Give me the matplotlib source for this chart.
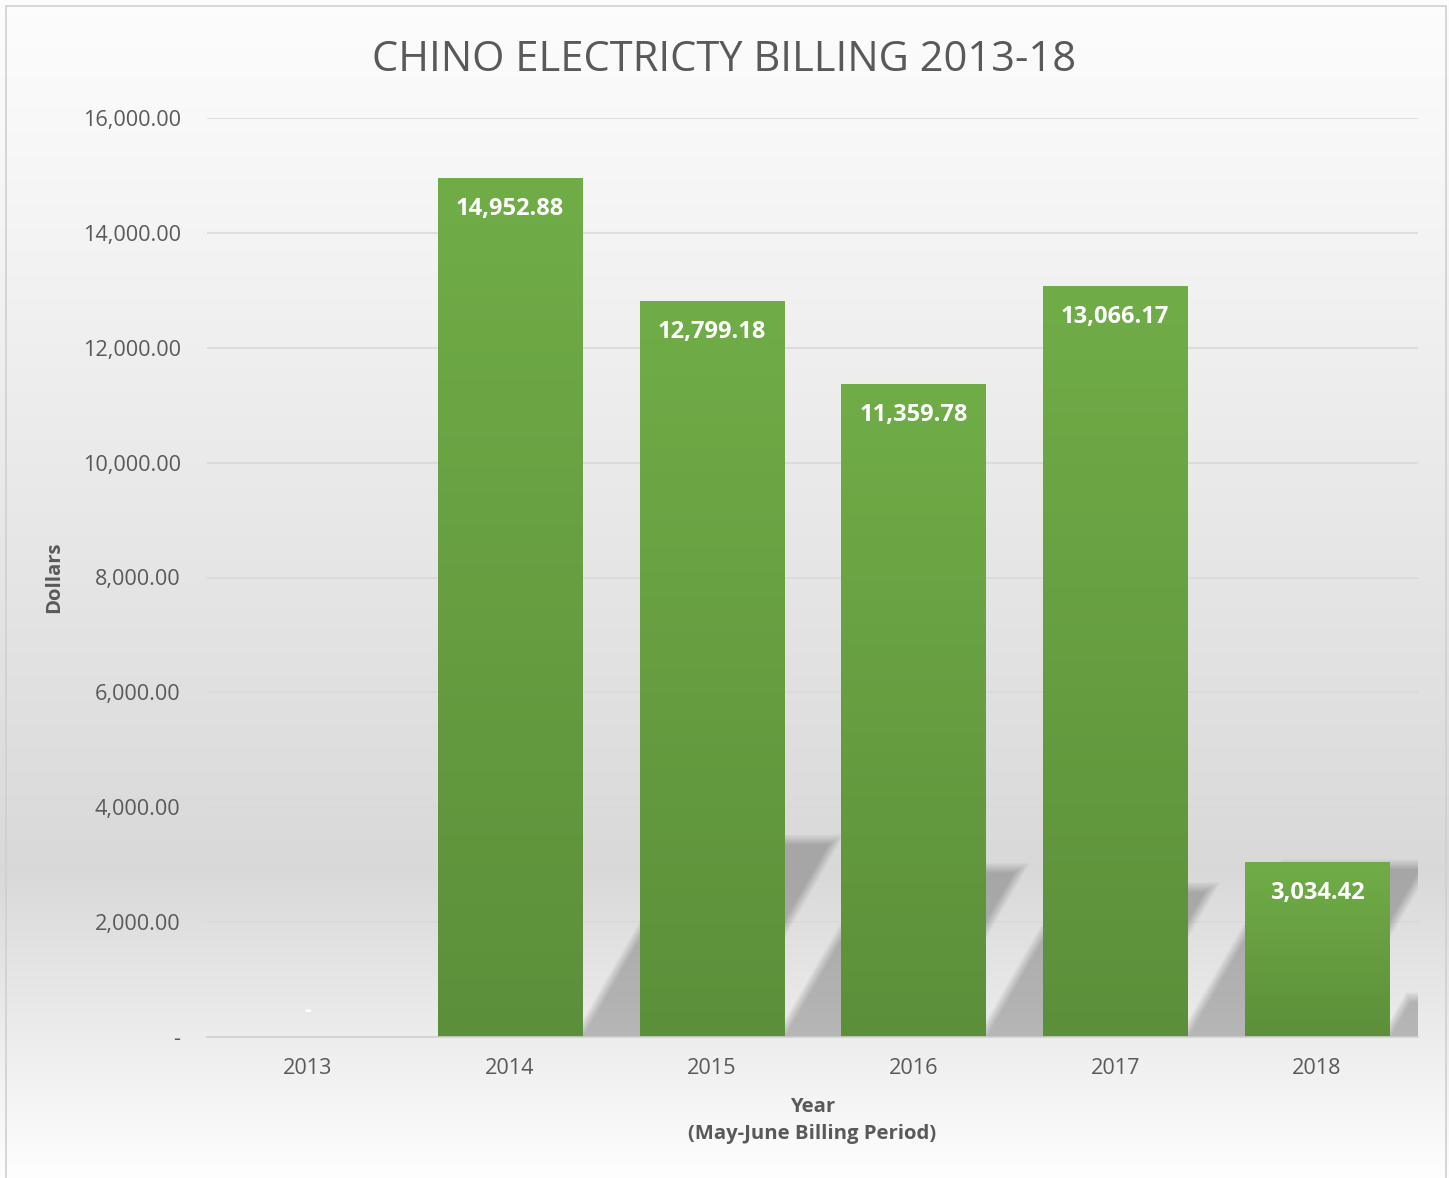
import matplotlib
matplotlib.use("Agg")
import matplotlib.pyplot as plt
import numpy as np
from matplotlib.patches import Polygon, Rectangle

plt.rcParams['font.family'] = ['Open Sans', 'DejaVu Sans']

# data
years = ['2013', '2014', '2015', '2016', '2017', '2018']
billing = [0.0, 14952.88, 12799.18, 11359.78, 13066.17, 3034.42]
y_ticks = [0, 2000, 4000, 6000, 8000, 10000, 12000, 14000, 16000]

grey_text = '#595959'
top_green = np.array([112, 173, 71]) / 255
bottom_green = np.array([92, 143, 58]) / 255

fig = plt.figure(figsize=(14.49, 11.78), dpi=100)

# chart area background: light -> grey -> light vertical gradient
bg = fig.add_axes([0, 0, 1, 1], zorder=0)
t = np.linspace(0, 1, 400)
shade = np.interp(t, [0, 0.1, 0.74, 1.0], [0.99, 0.975, 0.85, 0.995])
bg_img = np.repeat(np.dstack([shade, shade, shade]).reshape(-1, 1, 3), 2, axis=1)
bg.imshow(bg_img, extent=[0, 1, 0, 1], aspect='auto', origin='upper')
bg.add_patch(Rectangle((6 / 1449, -0.01), 1440 / 1449, 1 - 6 / 1178 + 0.01,
                       fill=False, edgecolor='#d0d0d0', lw=1.2))
bg.set_xlim(0, 1)
bg.set_ylim(0, 1)
bg.axis('off')

ax = fig.add_axes([207 / 1449, 141 / 1178, 1211 / 1449, 919 / 1178], zorder=1)
ax.patch.set_alpha(0)

x = np.arange(len(years))
width = 0.714
ax.set_xlim(-0.5, len(years) - 0.5)
ax.set_ylim(0, 16000)

# soft perspective shadows behind bars
shadow_k = 0.23
shadow_off = 0.694
px_x = 1 / 201.6          # one pixel in category units
px_y = 16000 / 919        # one pixel in dollars
skew = 0.58 * px_x / px_y
n_layers = 10
for xi, v in zip(x, billing):
    if v <= 0:
        continue
    h = v * shadow_k
    x0 = xi - width / 2 + shadow_off
    x1 = xi + width / 2 + shadow_off
    for g in np.linspace(-5, 5, n_layers):
        gx, gy = g * px_x, g * px_y
        pts = [(x0 - gx, 0), (x1 + gx, 0),
               (x1 + (h + gy) * skew + gx, h + gy),
               (x0 + (h + gy) * skew - gx, h + gy)]
        ax.add_patch(Polygon(pts, closed=True, facecolor='black',
                             edgecolor='none', alpha=0.022, zorder=1.5))

# gridlines
ax.set_yticks(y_ticks)
ax.yaxis.grid(True, color='#d9d9d9', lw=1.2, zorder=1)
ax.set_axisbelow(True)

# gradient bars
bars = ax.bar(x, billing, width=width, color='none', zorder=3)
grad = np.linspace(0, 1, 256)[:, None]
cols = top_green[None, :] * (1 - grad) + bottom_green[None, :] * grad
img = np.repeat(cols[:, None, :], 2, axis=1)
for b in bars:
    if b.get_height() <= 0:
        continue
    ax.imshow(img, extent=[b.get_x(), b.get_x() + b.get_width(), 0, b.get_height()],
              aspect='auto', origin='upper', zorder=3)
ax.set_xlim(-0.5, len(years) - 0.5)
ax.set_ylim(0, 16000)

# data labels
for xi, v in zip(x, billing):
    if v > 0:
        ax.annotate(f'{v:,.2f}', (xi, v), xytext=(0, -22), textcoords='offset points',
                    ha='center', va='center', color='white', fontsize=17,
                    fontweight='bold', zorder=5)
    else:
        ax.annotate('-', (xi, v), xytext=(0, 19), textcoords='offset points',
                    ha='center', va='center', color='white', fontsize=15,
                    fontweight='bold', zorder=5)

ax.set_xticks(x)
ax.set_xticklabels(years)
ax.set_yticklabels(['-' if v == 0 else f'{v:,.2f}' for v in y_ticks])
ax.tick_params(axis='both', length=0, labelsize=15.6, labelcolor=grey_text)
ax.tick_params(axis='y', pad=19)
ax.tick_params(axis='x', pad=15)
for s in ['top', 'right', 'left']:
    ax.spines[s].set_visible(False)
ax.spines['bottom'].set_color('#d0d0d0')
ax.spines['bottom'].set_linewidth(1.2)
ax.spines['bottom'].set_zorder(4)

ax.set_ylabel('Dollars', fontsize=14.6, fontweight='bold', color=grey_text, labelpad=13)
ax.set_xlabel('Year\n(May-June Billing Period)', fontsize=14.6, fontweight='bold',
              color=grey_text, labelpad=13, linespacing=1.5)

fig.text(0.5, 1 - 60 / 1178, 'CHINO ELECTRICTY BILLING 2013-18', ha='center',
         va='center', fontsize=30, color=grey_text)

fig.savefig('out.png', dpi=100)
